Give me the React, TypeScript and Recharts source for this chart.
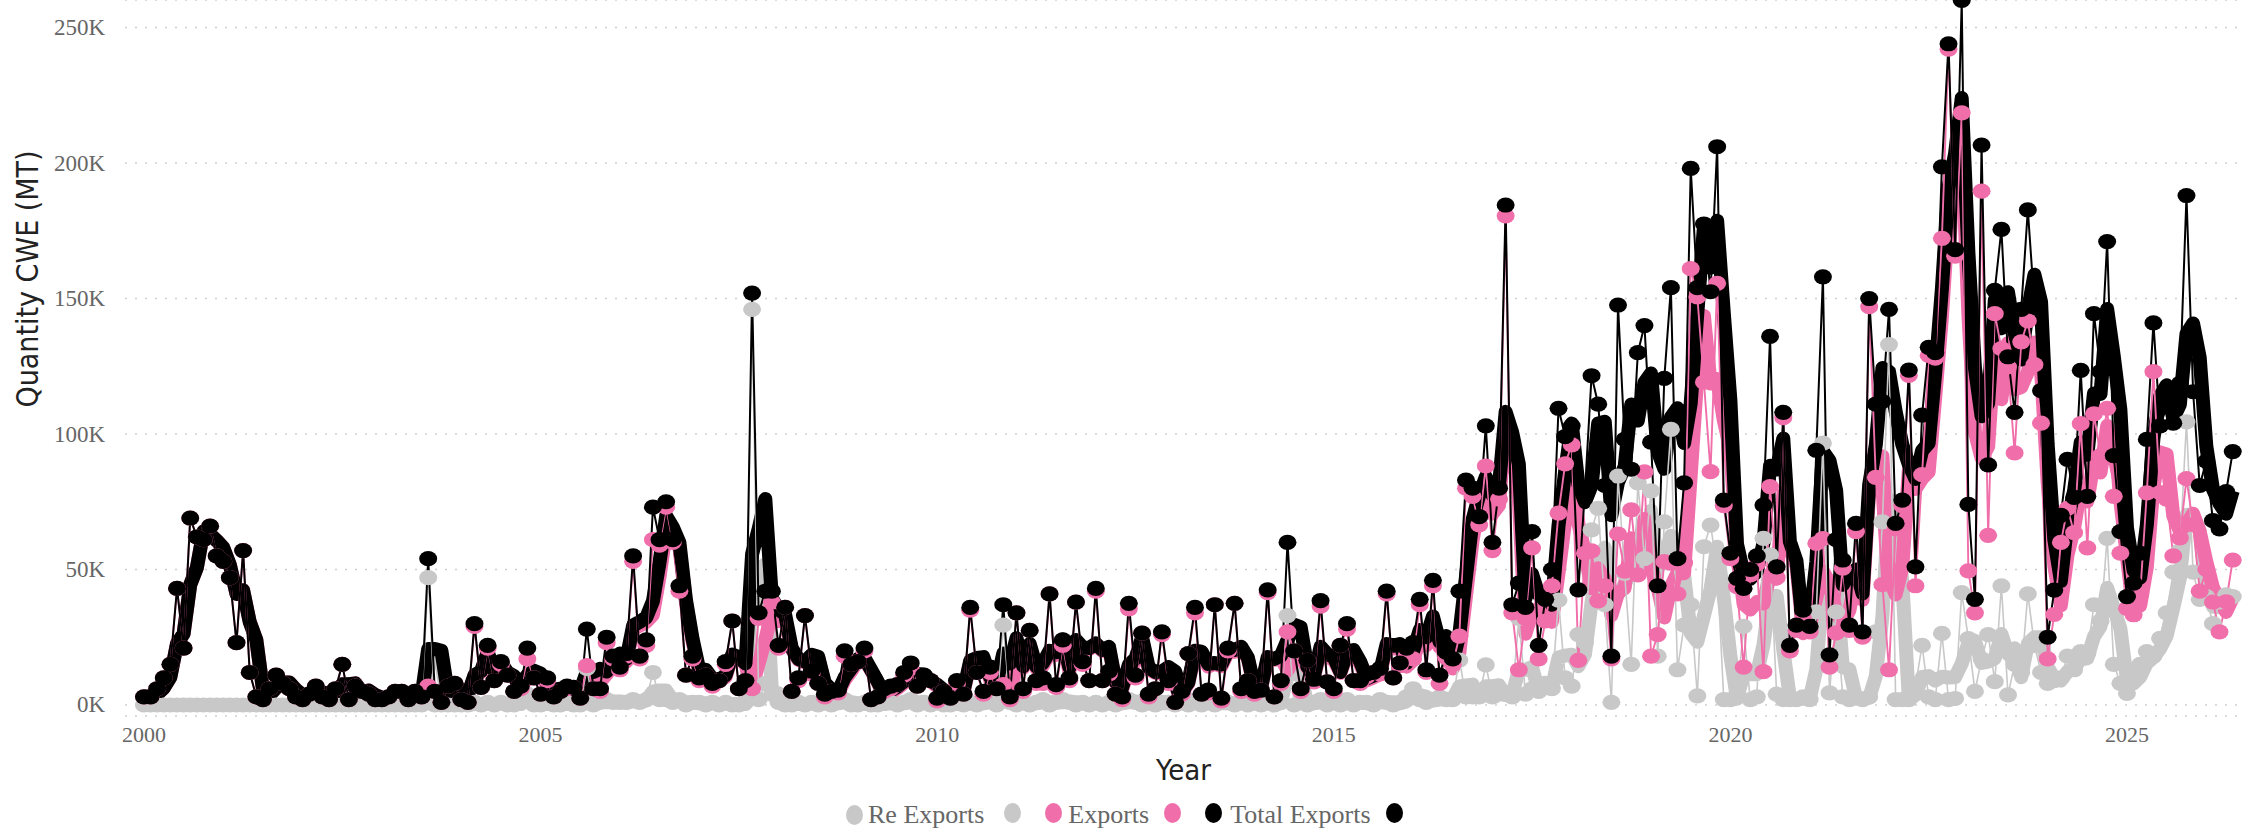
import React from 'react';
import { ComposedChart, Line, XAxis, YAxis, CartesianGrid, Label } from 'recharts';

// monthly series, Jan 2000 .. May 2026, thousand tonnes CWE
const startYear = 2000;
const tickYears = [2000, 2005, 2010, 2015, 2020, 2025];
const yTicks = [0, 50, 100, 150, 200, 250];
const seriesNames = ['Re Exports', 'Exports', 'Total Exports'];
const seriesColors = ['#c8c8c8', '#f06eaa', '#000000'];

const totalExports = [
  3, 3, 6, 10, 15, 43, 21, 69, 62, 61, 66, 55, // 2000
  53, 47, 23, 57, 12, 3, 2, 6, 11, 8, 6, 3, // 2001
  2, 4, 7, 3, 2, 6, 15, 2, 7, 5, 4, 2, // 2002
  2, 3, 5, 5, 2, 5, 3, 54, 5, 1, 7, 8, // 2003
  2, 1, 30, 6.5, 22, 9, 16, 11, 5, 7, 21, 10, // 2004
  4, 10, 3, 5, 7, 6.5, 2.5, 28, 6, 6, 25, 18, // 2005
  14, 19, 55, 18, 24, 73, 61, 75, 61, 44, 11, 18, // 2006
  10, 11, 8, 9, 16, 31, 6, 9, 152, 34, 42, 42, // 2007
  22, 36, 5, 10, 33, 12.5, 8, 4, 5, 5.5, 20, 15, // 2008
  16, 21, 2, 3, 6, 7, 7.5, 12, 15.5, 7, 11, 9, // 2009
  2.5, 5, 2.5, 9, 4, 36, 12, 5, 14, 6, 37, 3, // 2010
  34, 6, 27.5, 9, 10, 41, 7.5, 24, 10, 38, 16, 9, // 2011
  43, 9, 12.5, 4, 3, 37.5, 11, 26.5, 4, 6, 27, 9, // 2012
  1, 5, 19, 36, 4, 5.5, 37, 2.5, 21, 37.5, 6, 9, // 2013
  5, 5.5, 42.5, 3, 9, 60, 20, 6, 16.5, 9.5, 38.5, 8.5, // 2014
  6, 22, 30, 9, 9, 11.5, 12, 13.5, 42, 10, 15.5, 21, // 2015
  23, 39, 13, 46, 11, 19.5, 17, 42, 83, 80, 69.5, 103, // 2016
  60, 80, 184.5, 37, 45, 36, 64, 22, 39, 50, 109.5, 99, // 2017
  103, 42.5, 79, 121.5, 111, 81, 18, 147.6, 98, 87, 130, 140, // 2018
  97, 44, 120.5, 154, 54, 82, 198, 154, 177.5, 152.5, 206, 75.6, // 2019
  56, 46.7, 43, 50, 55, 73.8, 136, 51, 108, 22, 29.5, 35, // 2020
  29, 94, 158, 18.5, 61, 53.5, 29.5, 67, 27, 150, 111, 112, // 2021
  146, 67, 75.6, 123.6, 51, 107, 132, 130, 198.6, 244, 168, 260, // 2022
  74, 39, 206.6, 88.6, 153, 175.5, 128.5, 108, 146, 182.7, 147.6, 116, // 2023
  25, 42.4, 70, 90.6, 76.6, 123.5, 77, 144.4, 123, 171, 92, 64, // 2024
  40, 45, 56, 98, 141, 103, 110, 104, 118.7, 188, 115.6, 81, // 2025
  90, 68, 65, 78.7, 93.5, // 2026
];

const reExports = [
  0, 0, 0, 0, 0, 0, 0, 0, 0, 0, 0, 0, // 2000
  0, 0, 0, 0, 0, 0, 0, 0, 0, 0, 0, 0, // 2001
  0, 0, 0, 0, 0, 0, 0, 0, 0, 0, 0, 0, // 2002
  0, 0, 0, 0, 0, 0, 0, 47, 0, 0, 0, 0, // 2003
  0, 0, 1, 0, 1, 0, 1, 0, 0, 1, 4, 0, // 2004
  0, 1, 0, 0, 1, 0, 0, 13.5, 0, 1, 2, 1, // 2005
  1, 1, 2, 1, 2, 12, 2, 2, 1, 2, 0, 1, // 2006
  1, 0, 1, 0, 1, 0, 0, 1, 146, 2, 8, 4, // 2007
  1, 0, 0, 1, 0, 1, 0, 1, 0, 1, 2, 0, // 2008
  0, 1, 0, 0, 1, 1, 0, 1, 2, 0, 1, 0, // 2009
  1, 0, 0, 1, 0, 1, 0, 1, 2, 0, 29.5, 1, // 2010
  0, 1, 0, 1, 2, 0, 1, 2, 1, 0, 1, 0, // 2011
  1, 0, 1, 0, 1, 2, 1, 0, 1, 0, 1, 1, // 2012
  0, 1, 0, 2, 0, 1, 0, 1, 1, 0, 1, 0, // 2013
  1, 0, 1, 0, 1, 33, 0, 1, 0, 1, 2, 0, // 2014
  1, 0, 2, 0, 1, 1, 0, 2, 1, 0, 1, 3, // 2015
  6, 2, 1, 2, 3, 2, 2, 16.6, 3, 3, 3, 14.8, // 2016
  3, 4, 4, 3, 32, 4, 6, 5, 8, 6, 38.7, 10, // 2017
  7, 26, 23, 64.6, 72.6, 37, 1, 84.5, 48.6, 15, 82, 54, // 2018
  79, 18, 67.6, 101.7, 13, 29.5, 37, 3.4, 58.4, 66.4, 50.4, 2, // 2019
  2, 3, 29, 2, 3, 61.5, 55.4, 4, 2, 2, 2, 3, // 2020
  2, 34.4, 96.6, 4.5, 34.4, 3, 2, 3, 2, 3, 27, 67.6, // 2021
  133, 2, 2, 2, 7, 22, 3, 2, 26.4, 2, 2.4, 41.5, // 2022
  24.5, 5, 17, 26, 8.6, 44, 3.7, 15, 12, 41, 22, 12, // 2023
  8, 9, 10, 18, 13, 19.7, 19, 37, 31, 61.5, 15, 8, // 2024
  4.3, 11.7, 15, 19.7, 18, 24.6, 34, 49, 57, 104.5, 49, 39, // 2025
  40, 30, 38, 40.6, 40, // 2026
];

const exportsOnly = [
  3, 3, 6, 10, 15, 43, 21, 69, 62, 61, 66, 55, // 2000
  53, 47, 23, 57, 12, 3, 2, 6, 11, 8, 6, 3, // 2001
  2, 4, 7, 3, 2, 6, 15, 2, 7, 5, 4, 2, // 2002
  2, 3, 5, 5, 2, 5, 3, 7, 5, 1, 7, 8, // 2003
  2, 1, 29, 6.5, 21, 9, 15, 11, 5, 6, 17, 10, // 2004
  4, 9, 3, 5, 6, 6.5, 2.5, 14.5, 6, 5, 23, 17, // 2005
  13, 18, 53, 17, 22, 61, 59, 73, 60, 42, 11, 17, // 2006
  9, 11, 7, 9, 15, 31, 6, 8, 6, 32, 34, 38, // 2007
  21, 36, 5, 9, 33, 11.5, 8, 3, 5, 4.5, 18, 15, // 2008
  16, 20, 2, 3, 5, 6, 7.5, 11, 13.5, 7, 10, 9, // 2009
  1.5, 5, 2.5, 8, 4, 35, 12, 4, 12, 6, 7.5, 2, // 2010
  34, 5, 27.5, 8, 8, 41, 6.5, 22, 9, 38, 15, 9, // 2011
  42, 9, 11.5, 4, 2, 35.5, 10, 26.5, 3, 6, 26, 8, // 2012
  1, 4, 19, 34, 4, 4.5, 37, 1.5, 20, 37.5, 5, 9, // 2013
  4, 5.5, 41.5, 3, 8, 27, 20, 5, 16.5, 8.5, 36.5, 8.5, // 2014
  5, 22, 28, 9, 8, 10.5, 12, 11.5, 41, 10, 14.5, 18, // 2015
  17, 37, 12, 44, 8, 17.5, 15, 25.4, 80, 77, 66.5, 88.2, // 2016
  57, 76, 180.5, 34, 13, 32, 58, 17, 31, 44, 70.8, 89, // 2017
  96, 16.5, 56, 56.9, 38.4, 44, 17, 63.1, 49.4, 72, 48, 86, // 2018
  18, 26, 52.9, 52.3, 41, 52.5, 161, 150.6, 119.1, 86.1, 155.6, 73.6, // 2019
  54, 43.7, 14, 48, 52, 12.3, 80.6, 47, 106, 20, 27.5, 32, // 2020
  27, 59.6, 61.4, 14, 26.6, 50.5, 27.5, 64, 25, 147, 84, 44.4, // 2021
  13, 65, 73.6, 121.6, 44, 85, 129, 128, 172.2, 242, 165.6, 218.5, // 2022
  49.5, 34, 189.6, 62.6, 144.4, 131.5, 124.8, 93, 134, 141.7, 125.6, 104, // 2023
  17, 33.4, 60, 72.6, 63.6, 103.8, 58, 107.4, 92, 109.5, 77, 56, // 2024
  35.7, 33.3, 41, 78.3, 123, 78.4, 76, 55, 61.7, 83.5, 66.6, 42, // 2025
  50, 38, 27, 38.1, 53.5, // 2026
];

// thick lines = trailing 3-month average
const rolling = (arr: number[]) =>
  arr.map((_, i) => {
    const win = arr.slice(Math.max(0, i - 2), i + 1);
    return win.reduce((a, b) => a + b, 0) / win.length;
  });

const reAvg = rolling(reExports);
const exAvg = rolling(exportsOnly);
const totAvg = rolling(totalExports);

const data = totalExports.map((t, i) => ({
  x: startYear + i / 12,
  re: reExports[i],
  ex: exportsOnly[i],
  tot: t,
  reAvg: reAvg[i],
  exAvg: exAvg[i],
  totAvg: totAvg[i],
}));

const serif = "'Liberation Serif', 'Times New Roman', serif";
const condensed = "'DejaVu Sans Condensed', 'DejaVu Sans', sans-serif";

const makeDot = (color: string, name: string) => (props: any) => {
  const { cx, cy, index } = props;
  if (cx == null || cy == null) return <g key={`${name}-${index}`} />;
  return <ellipse key={`${name}-${index}`} cx={cx} cy={cy} rx={9} ry={7.6} fill={color} />;
};

const XTick = (props: any) => (
  <text x={props.x} y={734} textAnchor="middle" dominantBaseline="central" fontFamily={serif} fontSize={22} fill="#666">
    {props.payload.value}
  </text>
);

const YTick = (props: any) => (
  <text x={105} y={props.y} textAnchor="end" dominantBaseline="central" fontFamily={serif} fontSize={23} fill="#666">
    {`${props.payload.value}K`}
  </text>
);

const LegendDot = ({ color }: { color: string }) => (
  <span style={{ display: 'inline-block', width: 17, height: 20, borderRadius: '50%', background: color }} />
);

const App = () => {
  return (
    <div style={{ position: 'absolute', left: 0, top: 0, width: 2265, height: 831, background: '#fff' }}>
      <ComposedChart width={2265} height={831} data={data} margin={{ top: 0, right: 23, bottom: 0, left: 0 }}>
        <CartesianGrid vertical={false} strokeDasharray="2 8" stroke="#cfcfcf" strokeWidth={1.5} />
        <XAxis
          type="number"
          dataKey="x"
          domain={[1999.761, 2026.45]}
          ticks={tickYears}
          allowDataOverflow
          axisLine={false}
          tickLine={false}
          height={115}
          tick={<XTick />}
        >
          <Label
            content={(p: any) => (
              <text
                x={p.viewBox.x + p.viewBox.width / 2}
                y={770}
                textAnchor="middle"
                dominantBaseline="central"
                fontFamily={condensed}
                fontSize={29}
                fill="#222"
              >
                Year
              </text>
            )}
          />
        </XAxis>
        <YAxis
          type="number"
          domain={[-4.06, 260.15]}
          ticks={yTicks}
          allowDataOverflow
          axisLine={false}
          tickLine={false}
          width={125}
          tick={<YTick />}
        >
          <Label
            content={() => (
              <text
                transform="translate(27,279) rotate(-90)"
                textAnchor="middle"
                dominantBaseline="central"
                fontFamily={condensed}
                fontSize={30}
                fill="#222"
              >
                Quantity CWE (MT)
              </text>
            )}
          />
        </YAxis>

        <Line type="linear" dataKey="reAvg" stroke={seriesColors[0]} strokeWidth={14} dot={false} strokeLinejoin="round" isAnimationActive={false} />
        <Line type="linear" dataKey="exAvg" stroke={seriesColors[1]} strokeWidth={14} dot={false} strokeLinejoin="round" isAnimationActive={false} />
        <Line type="linear" dataKey="totAvg" stroke={seriesColors[2]} strokeWidth={14} dot={false} strokeLinejoin="round" isAnimationActive={false} />

        <Line type="linear" dataKey="re" name={seriesNames[0]} stroke={seriesColors[0]} strokeWidth={1.6} dot={makeDot(seriesColors[0], 're')} isAnimationActive={false} />
        <Line type="linear" dataKey="ex" name={seriesNames[1]} stroke={seriesColors[1]} strokeWidth={1.9} dot={makeDot(seriesColors[1], 'ex')} isAnimationActive={false} />
        <Line type="linear" dataKey="tot" name={seriesNames[2]} stroke={seriesColors[2]} strokeWidth={2} dot={makeDot(seriesColors[2], 'tot')} isAnimationActive={false} />
      </ComposedChart>

      <div
        style={{
          position: 'absolute',
          left: 846,
          top: 803,
          display: 'flex',
          alignItems: 'center',
          fontFamily: serif,
          fontSize: 26,
          color: '#666',
          lineHeight: '22px',
          whiteSpace: 'nowrap',
        }}
      >
        <LegendDot color={seriesColors[0]} />
        <span style={{ marginLeft: 5 }}>{seriesNames[0]}</span>
        <span style={{ marginLeft: 20 }}><LegendDot color={seriesColors[0]} /></span>
        <span style={{ marginLeft: 24 }}><LegendDot color={seriesColors[1]} /></span>
        <span style={{ marginLeft: 6 }}>{seriesNames[1]}</span>
        <span style={{ marginLeft: 15 }}><LegendDot color={seriesColors[1]} /></span>
        <span style={{ marginLeft: 24 }}><LegendDot color={seriesColors[2]} /></span>
        <span style={{ marginLeft: 8 }}>{seriesNames[2]}</span>
        <span style={{ marginLeft: 15 }}><LegendDot color={seriesColors[2]} /></span>
      </div>
    </div>
  );
};

export default App;
